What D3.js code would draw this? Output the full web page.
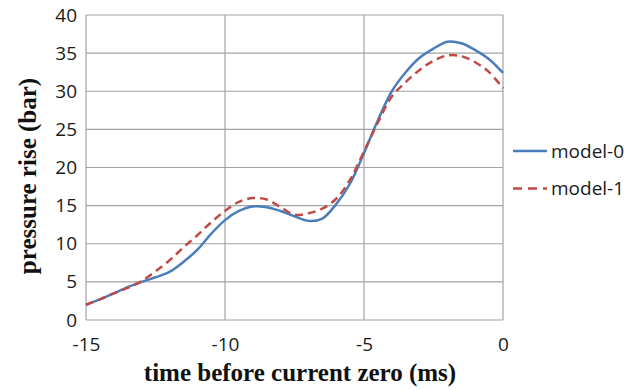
<!DOCTYPE html>
<html>
<head>
<meta charset="utf-8">
<script src="https://cdn.jsdelivr.net/npm/d3@7"></script>
<style>
  body { margin: 0; background: #fff; }
</style>
</head>
<body>
<div id="chart-area"></div>
<script>
// time before current zero (ms)
var times = [-15, -14.5, -14, -13.5, -13, -12.5, -12, -11.5, -11, -10.5, -10,
             -9.5, -9, -8.5, -8, -7.5, -7, -6.5, -6, -5.5, -5,
             -4.5, -4, -3.5, -3, -2.5, -2, -1.5, -1, -0.5, 0];

var model0 = [2.0, 2.7, 3.5, 4.3, 5.0, 5.6, 6.3, 7.6, 9.2, 11.3, 13.1,
              14.3, 14.9, 14.8, 14.3, 13.6, 13.0, 13.3, 15.2, 17.9, 21.9,
              26.2, 30.0, 32.5, 34.4, 35.6, 36.5, 36.3, 35.4, 34.2, 32.4];

var model1 = [2.0, 2.7, 3.5, 4.2, 5.1, 6.4, 7.8, 9.5, 11.1, 12.8, 14.3,
              15.5, 16.0, 15.8, 14.8, 13.8, 14.0, 14.6, 15.9, 18.4, 22.1,
              25.9, 29.3, 31.2, 32.8, 34.0, 34.7, 34.6, 33.8, 32.5, 30.4];

var seriesNames = ["model-0", "model-1"];
var xTicks = [-15, -10, -5, 0];
var yTicks = [0, 5, 10, 15, 20, 25, 30, 35, 40];

const MARGIN = { LEFT: 86, RIGHT: 141, TOP: 15, BOTTOM: 70 }
const WIDTH = 644 - MARGIN.LEFT - MARGIN.RIGHT
const HEIGHT = 390 - MARGIN.TOP - MARGIN.BOTTOM

const svg = d3.select("#chart-area").append("svg")
            .attr("width", 644)
            .attr("height", 390)

const g = svg.append("g")
       .attr("transform", `translate(${MARGIN.LEFT}, ${MARGIN.TOP})`)

var xScale = d3.scaleLinear().domain([-15, 0]).range([0, WIDTH]);
var yScale = d3.scaleLinear().domain([0, 40]).range([HEIGHT, 0]);

// grid lines
g.append("g")
  .selectAll("line")
  .data(yTicks)
  .join("line")
    .attr("x1", 0).attr("x2", WIDTH)
    .attr("y1", d => yScale(d)).attr("y2", d => yScale(d))
    .attr("stroke", "#a3a3a3").attr("stroke-width", 1.2);

g.append("g")
  .selectAll("line")
  .data(xTicks)
  .join("line")
    .attr("x1", d => xScale(d)).attr("x2", d => xScale(d))
    .attr("y1", 0).attr("y2", HEIGHT)
    .attr("stroke", "#a3a3a3").attr("stroke-width", 1.2);

// axes (labels only)
var xAxis = g.append("g")
  .attr("transform", "translate(0," + HEIGHT + ")")
  .call(d3.axisBottom(xScale).tickValues(xTicks).tickFormat(d => String(d))
          .tickSize(0).tickPadding(18));
var yAxis = g.append("g")
  .call(d3.axisLeft(yScale).tickValues(yTicks).tickFormat(d => String(d))
          .tickSize(0).tickPadding(9));

[xAxis, yAxis].forEach(function(a) {
  a.select(".domain").remove();
  a.selectAll("text")
    .attr("font-family", "'Open Sans', sans-serif")
    .attr("font-size", 19)
    .attr("fill", "#1a1a1a");
});

var lineGenerator = d3.line()
  .x((d, i) => xScale(times[i]))
  .y(d => yScale(d))
  .curve(d3.curveCatmullRom);

g.append("path")
  .attr("fill", "none")
  .attr("stroke", "#4a7ebb")
  .attr("stroke-width", 2.5)
  .attr("d", lineGenerator(model0));

g.append("path")
  .attr("fill", "none")
  .attr("stroke", "#be4b48")
  .attr("stroke-width", 2.5)
  .attr("stroke-dasharray", "8,5")
  .attr("d", lineGenerator(model1));

// legend
var legend = svg.append("g").attr("transform", "translate(513,151)");
var styles = [{ color: "#4a7ebb", dash: null }, { color: "#be4b48", dash: "9,6" }];
seriesNames.forEach(function(name, i) {
  var row = legend.append("g").attr("transform", `translate(0, ${i * 37.5})`);
  row.append("line")
    .attr("x1", 0).attr("x2", 34)
    .attr("stroke", styles[i].color)
    .attr("stroke-width", 2.5)
    .attr("stroke-dasharray", styles[i].dash);
  row.append("text")
    .attr("x", 38).attr("y", 6.5)
    .attr("font-family", "'Open Sans', sans-serif")
    .attr("font-size", 19)
    .attr("fill", "#1a1a1a")
    .text(name);
});

// axis titles
svg.append("text")
  .attr("x", 300).attr("y", 381)
  .attr("text-anchor", "middle")
  .attr("font-family", "'Liberation Serif', 'Times New Roman', serif")
  .attr("font-weight", "bold")
  .attr("font-size", 25)
  .attr("fill", "#111")
  .text("time before current zero (ms)");

svg.append("text")
  .attr("transform", "translate(36,176) rotate(-90)")
  .attr("text-anchor", "middle")
  .attr("font-family", "'Liberation Serif', 'Times New Roman', serif")
  .attr("font-weight", "bold")
  .attr("font-size", 25)
  .attr("fill", "#111")
  .text("pressure rise (bar)");
</script>
</body>
</html>
